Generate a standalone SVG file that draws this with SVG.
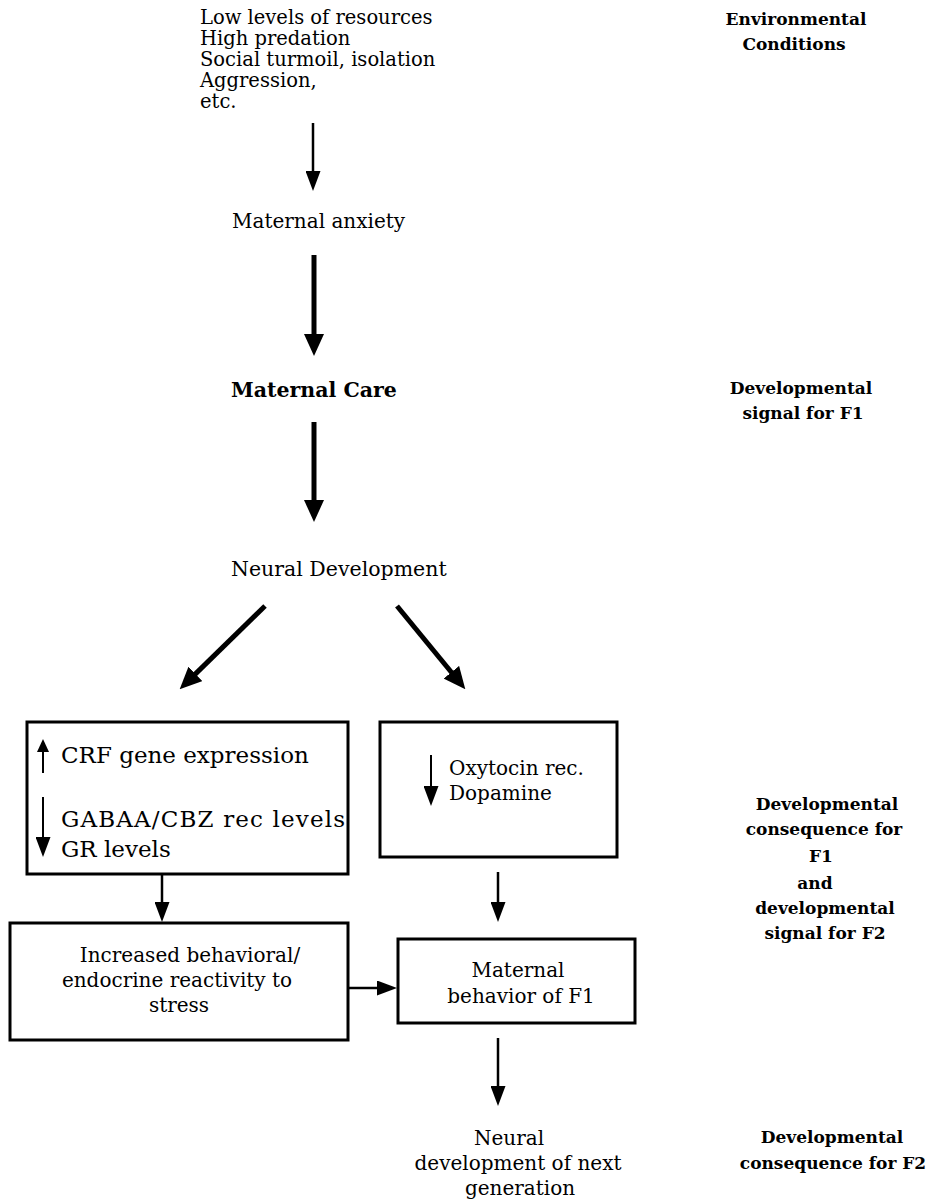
<svg xmlns="http://www.w3.org/2000/svg" width="932" height="1202" viewBox="0 0 932 1202">
<defs>
<style>
text{font-family:"DejaVu Serif","Liberation Serif",serif;fill:#000}
.t{font-size:19.5px}
.m{font-size:20px}
.b{font-size:20.5px;font-weight:bold}
.n{font-size:20.5px}
.big{font-size:23px}
.lab{font-size:17px;font-weight:bold;text-anchor:middle}
.c{text-anchor:middle}
.box{fill:#fff;stroke:#000;stroke-width:3}
.thick{stroke:#000;stroke-width:5;fill:none}
.thin{stroke:#000;stroke-width:2.5;fill:none}
.fine{stroke:#000;stroke-width:2;fill:none}
</style>
<marker id="hThick" viewBox="0 -10 22 20" refX="1" refY="0" markerWidth="22" markerHeight="20" markerUnits="userSpaceOnUse" orient="auto"><path d="M0,-10 L22,0 L0,10 z" fill="#000"/></marker>
<marker id="hThin" viewBox="0 -7.5 20 15" refX="1" refY="0" markerWidth="20" markerHeight="15" markerUnits="userSpaceOnUse" orient="auto"><path d="M0,-7.5 L20,0 L0,7.5 z" fill="#000"/></marker>
<marker id="hSmall" viewBox="0 -6 13 12" refX="1" refY="0" markerWidth="13" markerHeight="12" markerUnits="userSpaceOnUse" orient="auto"><path d="M0,-6 L13,0 L0,6 z" fill="#000"/></marker>
</defs>
<rect width="932" height="1202" fill="#fff"/>

<g id="connectors">
<line class="thin" x1="313" y1="123" x2="313" y2="172" marker-end="url(#hThin)"/>
<line class="thick" x1="314" y1="255" x2="314" y2="335" marker-end="url(#hThick)"/>
<line class="thick" x1="314" y1="422" x2="314" y2="501" marker-end="url(#hThick)"/>
<line class="thick" x1="265" y1="606" x2="194.7" y2="674.6" marker-end="url(#hThick)"/>
<line class="thick" x1="397" y1="606" x2="452" y2="673" marker-end="url(#hThick)"/>
<line class="thin" x1="162" y1="874" x2="162" y2="903" marker-end="url(#hThin)"/>
<line class="thin" x1="348" y1="988" x2="378" y2="988" marker-end="url(#hThin)"/>
<line class="thin" x1="498" y1="872" x2="498" y2="903" marker-end="url(#hThin)"/>
<line class="thin" x1="498" y1="1038" x2="498" y2="1087" marker-end="url(#hThin)"/>
</g>

<g id="env-conditions-list">
<text class="t" x="200" y="24">Low levels of resources</text>
<text class="t" x="200" y="45">High predation</text>
<text class="t" x="200" y="66">Social turmoil, isolation</text>
<text class="t" x="200" y="87">Aggression,</text>
<text class="t" x="200" y="108">etc.</text>
</g>

<g id="maternal-anxiety">
<text class="m" x="232" y="228">Maternal anxiety</text>
</g>

<g id="maternal-care">
<text class="b" x="231" y="397">Maternal Care</text>
</g>

<g id="neural-development">
<text class="n" x="231" y="576">Neural Development</text>
</g>

<g id="box-crf">
<rect class="box" x="27" y="722" width="321" height="152"/>
<line class="fine" x1="43" y1="773" x2="43" y2="751" marker-end="url(#hSmall)"/>
<text class="big" x="61" y="763">CRF gene expression</text>
<line class="fine" x1="43" y1="797" x2="43" y2="838" marker-end="url(#hThin)"/>
<text class="big" x="61" y="827" textLength="284" lengthAdjust="spacing">GABAA/CBZ rec levels</text>
<text class="big" x="61" y="857">GR levels</text>
</g>

<g id="box-oxytocin">
<rect class="box" x="380" y="722" width="237" height="135"/>
<line class="fine" x1="431" y1="755" x2="431" y2="787" marker-end="url(#hThin)"/>
<text class="m" x="449" y="775">Oxytocin rec.</text>
<text class="m" x="449" y="800">Dopamine</text>
</g>

<g id="box-reactivity">
<rect class="box" x="10" y="923" width="338" height="117"/>
<text class="m c" x="190" y="962">Increased behavioral/</text>
<text class="m c" x="177" y="987">endocrine reactivity to</text>
<text class="m c" x="179" y="1012">stress</text>
</g>

<g id="box-maternal-behavior">
<rect class="box" x="398" y="939" width="237" height="84"/>
<text class="m c" x="518" y="977">Maternal</text>
<text class="m c" x="521" y="1003">behavior of F1</text>
</g>

<g id="neural-next-gen">
<text class="m c" x="509" y="1145">Neural</text>
<text class="m c" x="518" y="1170">development of next</text>
<text class="m c" x="520" y="1195">generation</text>
</g>

<g id="label-environment">
<text class="lab" x="796" y="25">Environmental</text>
<text class="lab" x="794" y="50">Conditions</text>
</g>

<g id="label-signal-f1">
<text class="lab" x="801" y="394">Developmental</text>
<text class="lab" x="803" y="419">signal for F1</text>
</g>

<g id="label-consequence-f1">
<text class="lab" x="827" y="810">Developmental</text>
<text class="lab" x="824" y="835">consequence for</text>
<text class="lab" x="821" y="862">F1</text>
<text class="lab" x="815" y="889">and</text>
<text class="lab" x="825" y="914">developmental</text>
<text class="lab" x="825" y="939">signal for F2</text>
</g>

<g id="label-consequence-f2">
<text class="lab" x="832" y="1143">Developmental</text>
<text class="lab" x="833" y="1169">consequence for F2</text>
</g>
</svg>
